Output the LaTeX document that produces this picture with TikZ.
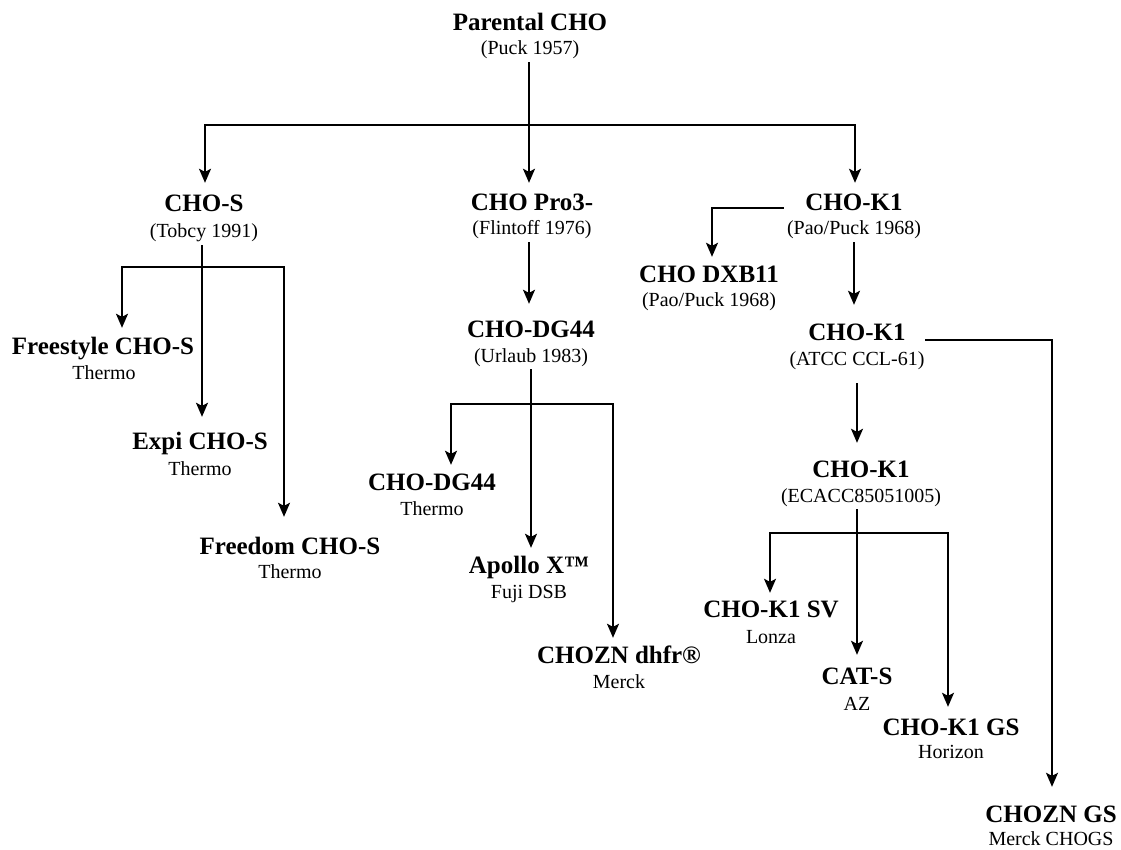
\documentclass[tikz,border=0pt]{standalone}
\usepackage{fontspec}
\setmainfont{Liberation Serif}
\usetikzlibrary{arrows.meta}
\begin{document}
\begin{tikzpicture}[x=1pt,y=-1pt,
  ttl/.style={font=\fontsize{25}{25}\selectfont\bfseries, inner sep=0pt, anchor=base, text height=18pt, text depth=6pt},
  sub/.style={font=\fontsize{20}{20}\selectfont, inner sep=0pt, anchor=base, text height=15pt, text depth=8pt},
  ln/.style={line width=1.6pt, line cap=rect},
  arr/.style={ln, -{Stealth[length=14pt,width=12pt,inset=3pt]}, shorten >=10pt},
]
\useasboundingbox[fill=white] (0,0) rectangle (1121,850);

% nodes
\node[ttl] (p) at (530,31) {Parental CHO};
\node[sub] (ps) at (530,55) {(Puck 1957)};

\node[ttl] (chos) at (204,212) {CHO-S};
\node[sub] (choss) at (204,238) {(Tobcy 1991)};
\node[ttl] (pro) at (532,211) {CHO Pro3-};
\node[sub] (pros) at (532,235) {(Flintoff 1976)};
\node[ttl] (k1) at (854,211) {CHO-K1};
\node[sub] (k1s) at (854,235) {(Pao/Puck 1968)};

\node[ttl] (fs) at (103,354) {Freestyle CHO-S};
\node[sub] (fss) at (104,379) {Thermo};
\node[ttl] (ex) at (200,449) {Expi CHO-S};
\node[sub] (exs) at (200,475) {Thermo};
\node[ttl] (fr) at (290,554) {Freedom CHO-S};
\node[sub] (frs) at (290,578) {Thermo};

\node[ttl] (dg) at (531,337) {CHO-DG44};
\node[sub] (dgs) at (531,362) {(Urlaub 1983)};
\node[ttl] (dgt) at (432,490) {CHO-DG44};
\node[sub] (dgts) at (432,515) {Thermo};
\node[ttl] (ap) at (529,573) {Apollo X™};
\node[sub] (aps) at (529,598) {Fuji DSB};
\node[ttl] (cz) at (619,663) {CHOZN dhfr®};
\node[sub] (czs) at (619,688) {Merck};

\node[ttl] (dx) at (709,282) {CHO DXB11};
\node[sub] (dxs) at (709,306) {(Pao/Puck 1968)};
\node[ttl] (k2) at (857,340) {CHO-K1};
\node[sub] (k2s) at (857,365) {(ATCC CCL-61)};
\node[ttl] (k3) at (861,477) {CHO-K1};
\node[sub] (k3s) at (861,502) {(ECACC85051005)};
\node[ttl] (sv) at (771,617) {CHO-K1 SV};
\node[sub] (svs) at (771,643) {Lonza};
\node[ttl] (cat) at (857,684) {CAT-S};
\node[sub] (cats) at (857,710) {AZ};
\node[ttl] (gs) at (951,735) {CHO-K1 GS};
\node[sub] (gss) at (951,758) {Horizon};
\node[ttl] (zgs) at (1051,822) {CHOZN GS};
\node[sub] (zgss) at (1051,845) {Merck CHOGS};

% top level
\coordinate (b1l) at (205,125);
\coordinate (b1r) at (855,125);
\coordinate (b1) at (529,125);
\draw[ln] (b1l) -- (b1r);
\draw[arr] (b1 |- ps.south) -- (b1 |- pro.north);
\draw[arr, shorten >=11pt] (b1l) -- (b1l |- chos.north);
\draw[arr] (b1r) -- (b1r |- k1.north);

% CHO-S children
\coordinate (s1l) at (122,267);
\coordinate (s1r) at (284,267);
\coordinate (s1) at (202,267);
\draw[ln] (s1l) -- (s1r);
\draw[arr, shorten >=8pt] (s1l) -- (s1l |- fs.north);
\draw[arr, shorten >=14pt] (s1 |- choss.south) -- (s1 |- ex.north);
\draw[arr, shorten >=19pt] (s1r) -- (s1r |- fr.north);

% Pro3 line
\coordinate (d0) at (529,300);
\draw[arr, shorten >=15pt] (d0 |- pros.south) -- (d0 |- dg.north);
\coordinate (d1l) at (451,404);
\coordinate (d1r) at (613,404);
\coordinate (d1) at (531,404);
\draw[ln] (d1l) -- (d1r);
\draw[arr, shorten >=7pt] (d1l) -- (d1l |- dgt.north);
\draw[arr, shorten >=7pt] (d1 |- dgs.south) -- (d1 |- ap.north);
\draw[arr, shorten >=7pt] (d1r) -- (d1r |- cz.north);

% CHO-K1 line
\coordinate (k1a) at (783,208);
\coordinate (k1b) at (712,208);
\draw[arr, shorten >=7pt] (k1a) -- (k1b) -- (k1b |- dx.north);
\draw[arr, shorten >=17pt] (k1s.south) -- (k1s.south |- k2.north);
\draw[arr, shorten <=11pt, shorten >=16pt] (k2s.south) -- (k2s.south |- k3.north);
\coordinate (k2a) at (926,340);
\coordinate (k2b) at (1052,340);
\draw[arr, shorten >=17pt] (k2a) -- (k2b) -- (k2b |- zgs.north);

\coordinate (e1l) at (770,533);
\coordinate (e1r) at (948,533);
\coordinate (e1) at (857,533);
\draw[ln] (e1l) -- (e1r);
\draw[arr, shorten >=6pt] (e1l) -- (e1l |- sv.north);
\draw[arr, shorten >=11pt] (e1 |- k3s.south) -- (e1 |- cat.north);
\draw[arr, shorten >=10pt] (e1r) -- (e1r |- gs.north);
\end{tikzpicture}
\end{document}
